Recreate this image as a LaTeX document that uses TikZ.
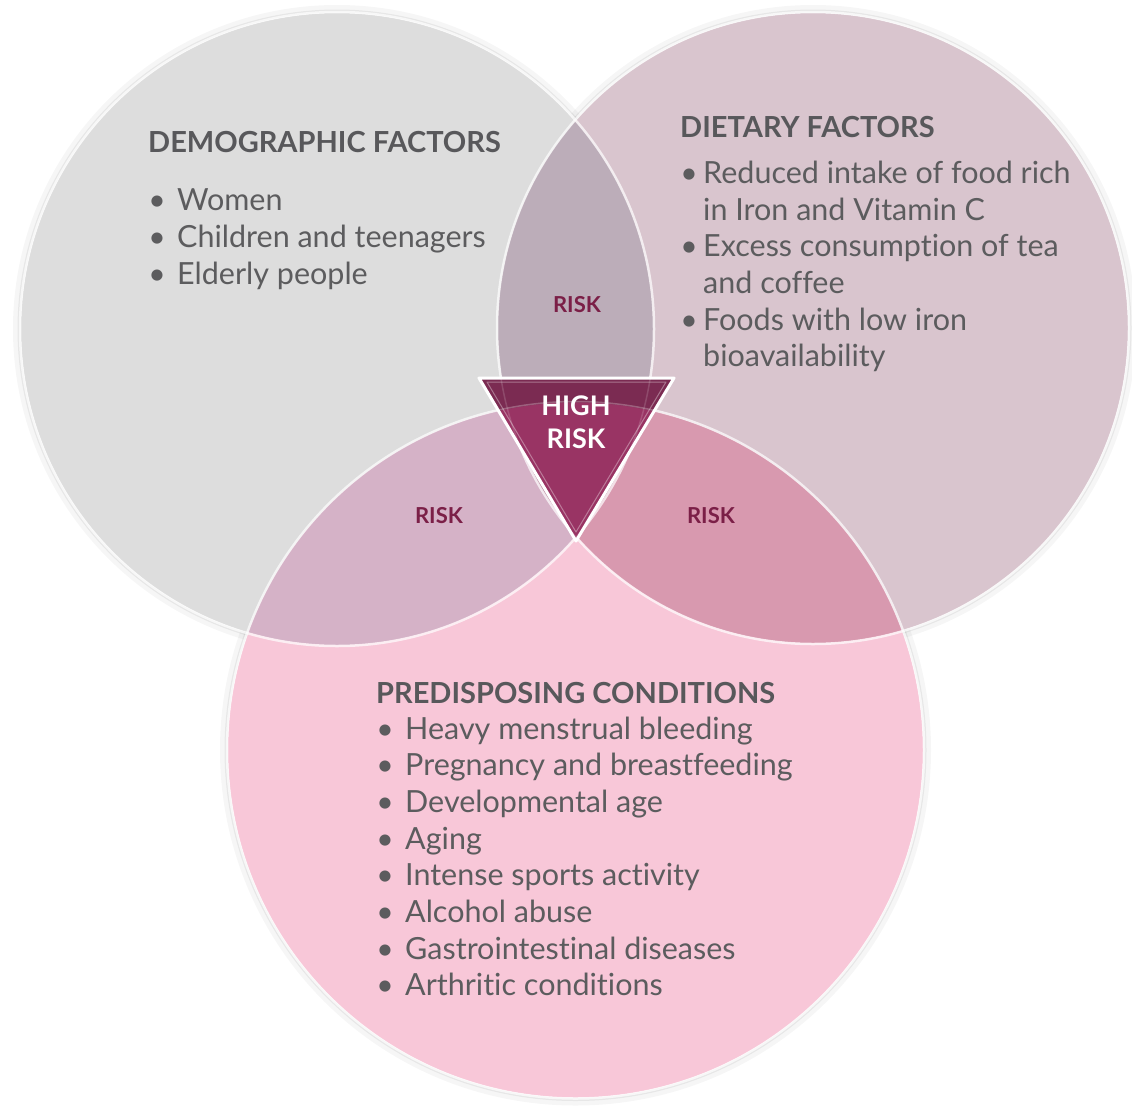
\documentclass[tikz,border=0pt]{standalone}
\usepackage{fontspec}
\setmainfont{Lato}[Ligatures=NoCommon]
\definecolor{cgray}{HTML}{DDDDDD}
\definecolor{cmauve}{HTML}{D9C5CE}
\definecolor{cpink}{HTML}{F8C7D8}
\definecolor{cLR}{HTML}{BCADB9}
\definecolor{cLB}{HTML}{D5B2C7}
\definecolor{cRB}{HTML}{D899AF}
\definecolor{cLRB}{HTML}{B8899F}
\definecolor{trdark}{HTML}{7B2B52}
\definecolor{trlight}{HTML}{993464}
\definecolor{titlegray}{HTML}{58585B}
\definecolor{bodygray}{HTML}{5C5C5E}
\definecolor{riskred}{HTML}{7B1F47}
\tikzset{
  ring/.style={draw=white, line width=2.5pt, opacity=0.7},
  shade1/.style={draw=black, line width=8pt, opacity=0.035},
  shade2/.style={draw=black, line width=3pt, opacity=0.06},
  ttl/.style={anchor=base west, inner sep=0pt, text=titlegray, font=\fontsize{29}{29}\selectfont\bfseries},
  itm/.style={anchor=base west, inner sep=0pt, text=bodygray, font=\fontsize{30.5}{30.5}\selectfont},
  bul/.style={anchor=base, inner sep=0pt, text=bodygray, font=\fontsize{30}{30}\selectfont},
  risk/.style={inner sep=0pt, text=riskred, font=\fontsize{22}{22}\selectfont\bfseries},
  hrisk/.style={inner sep=0pt, text=white, align=center, font=\fontsize{27}{33}\selectfont\bfseries},
}
\begin{document}
\begin{tikzpicture}[x=1pt,y=-1pt]
\useasboundingbox (0,0) rectangle (1132,1111);
\fill[white] (0,0) rectangle (1132,1111);
\coordinate (cL) at (337,329);
\coordinate (cR) at (813,328);
\coordinate (cB) at (575.5,750);
% soft shadows
\draw[shade1] (cL) circle[radius=320pt];
\draw[shade1] (cR) circle[radius=319pt];
\draw[shade1] (cB) circle[radius=351.5pt];
\draw[shade2] (cL) circle[radius=318pt];
\draw[shade2] (cR) circle[radius=317pt];
\draw[shade2] (cB) circle[radius=349.5pt];
% fills
\fill[cgray] (cL) circle[radius=316pt];
\fill[cmauve] (cR) circle[radius=315pt];
\fill[cpink] (cB) circle[radius=347.5pt];
\begin{scope}
  \clip (cL) circle[radius=316pt];
  \fill[cLR] (cR) circle[radius=315pt];
  \fill[cLB] (cB) circle[radius=347.5pt];
\end{scope}
\begin{scope}
  \clip (cR) circle[radius=315pt];
  \fill[cRB] (cB) circle[radius=347.5pt];
  \begin{scope}
    \clip (cL) circle[radius=316pt];
    \fill[cLRB] (cB) circle[radius=347.5pt];
  \end{scope}
\end{scope}
% outlines
\draw[ring] (cL) circle[radius=317pt];
\draw[ring] (cR) circle[radius=316pt];
\draw[ring] (cB) circle[radius=348.5pt];
% high-risk triangle
\coordinate (t1) at (479,378);
\coordinate (t2) at (674,378);
\coordinate (t3) at (576,541);
\begin{scope}
  \clip (t1) -- (t2) -- (t3) -- cycle;
  \fill[trdark] (470,360) rectangle (690,560);
  \fill[trlight] (cB) circle[radius=347.5pt];
  \draw[white, opacity=0.25, line width=1.5pt] (cB) circle[radius=348.5pt];
  \draw[white, opacity=0.15, line width=1.5pt] (cL) circle[radius=317pt];
  \draw[white, opacity=0.15, line width=1.5pt] (cR) circle[radius=316pt];
\end{scope}
\draw[white, opacity=0.35, line width=1pt, line join=round] (487,382) -- (666,382) -- (576,532) -- cycle;
\draw[white, line width=3pt, line join=round] (t1) -- (t2) -- (t3) -- cycle;
% labels
\node[hrisk] (high) at (576,422) {HIGH\\RISK};
\node[risk] (rtop) at (577,305) {RISK};
\node[risk] (rleft) at (439,516) {RISK};
\node[risk] (rright) at (711,516) {RISK};
% demographic
\node[ttl] (demT) at (148,152) {DEMOGRAPHIC FACTORS};
\foreach \t [count=\i] in {Women, Children and teenagers, Elderly people}{
  \node[bul] (demB\i) at (157,{210+37*(\i-1)}) {•};
  \node[itm] (dem\i) at (177,{210+37*(\i-1)}) {\t};
}
% dietary
\node[ttl] (dieT) at (680,137) {DIETARY FACTORS};
\node[bul] (dieB1) at (689,183) {•};
\node[bul] (dieB2) at (689,256) {•};
\node[bul] (dieB3) at (689,330) {•};
\node[itm] (die1) at (703,183) {Reduced intake of food rich};
\node[itm] (die2) at (703,220) {in Iron and Vitamin C};
\node[itm] (die3) at (703,256) {Excess consumption of tea};
\node[itm] (die4) at (703,293) {and coffee};
\node[itm] (die5) at (703,330) {Foods with low iron};
\node[itm] (die6) at (703,366) {bioavailability};
% predisposing
\node[ttl] (preT) at (376,703) {PREDISPOSING CONDITIONS};
\foreach \t [count=\i] in {Heavy menstrual bleeding, Pregnancy and breastfeeding, Developmental age, Aging, Intense sports activity, Alcohol abuse, Gastrointestinal diseases, Arthritic conditions}{
  \node[bul] (preB\i) at (385,{739+36.7*(\i-1)}) {•};
  \node[itm] (pre\i) at (405,{739+36.7*(\i-1)}) {\t};
}
\end{tikzpicture}
\end{document}
